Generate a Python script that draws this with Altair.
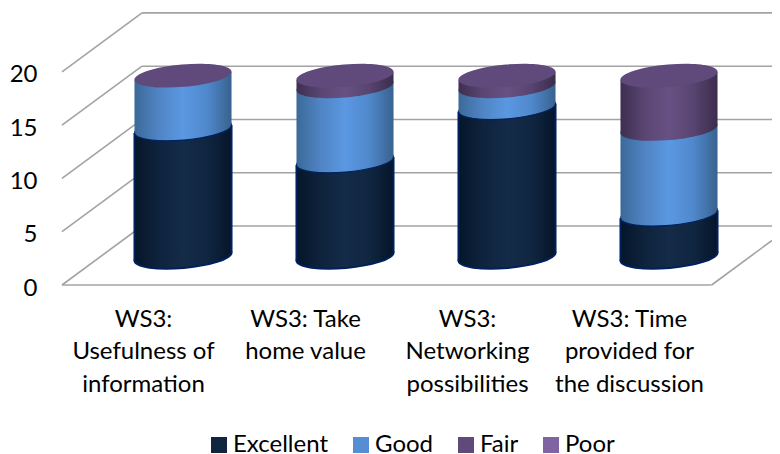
import math
import altair as alt
import pandas as pd

categories = ["WS3:|Usefulness of|information", "WS3: Take|home value", "WS3:|Networking|possibilities", "WS3: Time|provided for|the discussion"]
series_names = ["Excellent", "Good", "Fair", "Poor"]
excellent = [12, 9, 14, 4]
good = [5, 7, 2, 8]
fair = [0, 1, 1, 5]
poor = [0, 0, 0, 0]
ticks = [0, 5, 10, 15, 20]
colors = ["#10253F", "#558ED5", "#604A7B", "#8064A2"]
side_stops = [
    ["#05162A", "#0E233C", "#142B49", "#102640", "#05152A"],
    ["#3B6998", "#5084C4", "#5A98E2", "#5088CC", "#38628F"],
    ["#3E2E50", "#5A4673", "#675184", "#584470", "#3C2C4C"],
]
FONT = "Lato"
PX_X = 162.0      # pixels per category
PX_Y = 277 / 26   # pixels per value unit
W, H = 710, 277
XMAX = W / PX_X
DEPTH_X = 80 / PX_X
DEPTH_Y = 59 / PX_Y
A, B, TH = 48.7, 11.2, math.radians(5)


def ellipse_path():
    c, s = math.cos(TH), math.sin(TH)
    k = 0.5523

    def p(x, y):
        return f"{x * c + y * s:.3f},{-x * s + y * c:.3f}"

    return (
        f"M{p(A, 0)}"
        f"C{p(A, k * B)} {p(k * A, B)} {p(0, B)}"
        f"C{p(-k * A, B)} {p(-A, k * B)} {p(-A, 0)}"
        f"C{p(-A, -k * B)} {p(-k * A, -B)} {p(0, -B)}"
        f"C{p(k * A, -B)} {p(A, -k * B)} {p(A, 0)}Z"
    )


ELL = ellipse_path()
c_, s_ = math.cos(TH), math.sin(TH)
ax = math.sqrt(A * A * c_ * c_ + B * B * s_ * s_)
end_off = (A * A - B * B) * s_ * c_ / ax / PX_Y
half = ax / PX_X
BASE = DEPTH_Y / 2 - 0.12
cx = [i + 0.5 + DEPTH_X / 2 for i in range(4)]

xs = alt.Scale(domain=[0, XMAX], nice=False, zero=False)
ys = alt.Scale(domain=[0, 26], nice=False, zero=False)

label_list = "[" + ",".join(f"'{c}'" for c in categories) + "]"
x_axis = alt.Axis(
    values=[0.5, 1.5, 2.5, 3.5],
    labelExpr=f"split({label_list}[floor(datum.value)], '|')",
    labelFont=FONT, labelFontSize=24, labelColor="#000000", labelAngle=0,
    labelPadding=22, labelLineHeight=32.5, labelBaseline="top", labelAlign="center",
    labelOverlap=False, labelFlush=False, labelBound=False,
    ticks=False, domain=False, grid=False, title=None,
)
y_axis = alt.Axis(
    values=ticks, labelFont=FONT, labelFontSize=24, labelColor="#000000",
    labelPadding=25, labelOffset=3, ticks=False, domain=False, grid=False, title=None,
)


def X(f="x"):
    return alt.X(f"{f}:Q", scale=xs, axis=x_axis)


def Y(f="y"):
    return alt.Y(f"{f}:Q", scale=ys, axis=y_axis)


# grid: back wall, side wall, floor
grid = []
for t in ticks:
    grid.append(dict(x=DEPTH_X, x2=XMAX, y=t + DEPTH_Y, y2=t + DEPTH_Y))
    grid.append(dict(x=0, x2=DEPTH_X, y=t, y2=t + DEPTH_Y))
grid.append(dict(x=0, x2=4.01, y=0, y2=0))
grid.append(dict(x=4.01, x2=XMAX, y=0, y2=(XMAX - 4.01) / DEPTH_X * DEPTH_Y))
grid_df = pd.DataFrame(grid)

layers = [
    alt.Chart(grid_df).mark_rule(color="#A3A3A3", strokeWidth=1.6).encode(
        x=X(), x2=alt.X2("x2:Q"), y=Y(), y2=alt.Y2("y2:Q"),
    )
]

values = [excellent, good, fair]
lower = [0, 0, 0, 0]
for si, vals in enumerate(values):
    area_rows, ell_rows, side_rows = [], [], []
    for i, v in enumerate(vals):
        if v > 0:
            lo = BASE + lower[i]
            hi = lo + v
            area_rows.append(dict(col=i, x=cx[i] - half, y=lo - end_off, y2=hi - end_off))
            area_rows.append(dict(col=i, x=cx[i] + half, y=lo + end_off, y2=hi + end_off))
            ell_rows.append(dict(x=cx[i], y=lo))
            side_rows.append(dict(x=cx[i] - half, y=lo - end_off, y2=hi - end_off))
            side_rows.append(dict(x=cx[i] + half, y=lo + end_off, y2=hi + end_off))
        lower[i] += v
    n = len(side_stops[si]) - 1
    grad = alt.LinearGradient(
        gradient="linear", x1=0, x2=1, y1=0, y2=0,
        stops=[alt.GradientStop(color=col, offset=k / n) for k, col in enumerate(side_stops[si])],
    )
    layers.append(
        alt.Chart(pd.DataFrame(ell_rows)).mark_point(
            shape=ELL, size=4, filled=True, fill=grad, opacity=1,
            stroke="#00205F", strokeWidth=2 if si == 0 else 1.2 if si == 1 else 0,
        ).encode(x=X(), y=Y())
    )
    layers.append(
        alt.Chart(pd.DataFrame(area_rows)).mark_area(color=grad, opacity=1).encode(
            x=X(), y=Y(), y2=alt.Y2("y2:Q"), detail="col:N"
        )
    )
    if si == 0:
        layers.append(
            alt.Chart(pd.DataFrame(side_rows)).mark_rule(color="#00205F", strokeWidth=2).encode(
                x=X(), y=Y(), y2=alt.Y2("y2:Q")
            )
        )

cap_df = pd.DataFrame(
    [dict(x=cx[i], y=BASE + lower[i] + poor[i], s="Fair") for i in range(4)]
)
layers.append(
    alt.Chart(cap_df).mark_point(shape=ELL, size=4, filled=True, opacity=1).encode(
        x=X(), y=Y(),
        color=alt.Color(
            "s:N",
            scale=alt.Scale(domain=series_names, range=colors),
            legend=alt.Legend(
                orient="none", legendX=145, legendY=425, direction="horizontal",
                title=None, symbolType="square", symbolSize=256, symbolStrokeWidth=0,
                symbolOpacity=1, labelFont=FONT, labelFontSize=24, labelColor="#000000",
                columns=4, columnPadding=20, labelOffset=2, labelLimit=200,
            ),
        ),
    )
)

chart = alt.layer(*layers).properties(
    width=W, height=H,
    padding={"left": 54, "top": 0, "right": 0, "bottom": 176},
    autosize=alt.AutoSizeParams(type="none"),
    background="#FFFFFF",
).configure_view(stroke=None)

chart.save("out.html", embed_options={"renderer": "svg", "actions": False})
